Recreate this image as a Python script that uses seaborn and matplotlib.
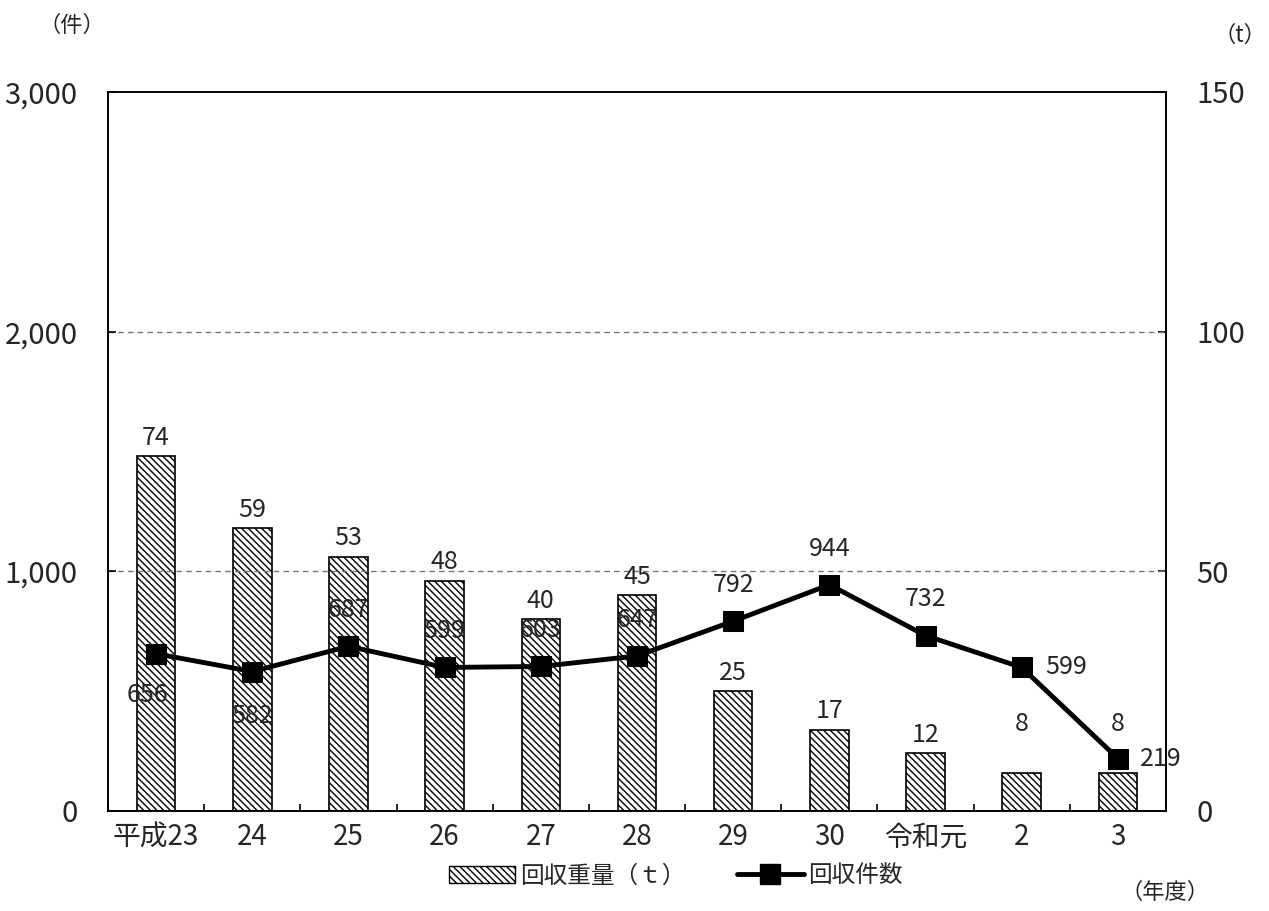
import numpy as np
import pandas as pd
import matplotlib
matplotlib.use("Agg")
import matplotlib.pyplot as plt
import seaborn as sns
from matplotlib.patches import Patch
from matplotlib.lines import Line2D

# data
years = ["平成23", "24", "25", "26", "27", "28", "29", "30", "令和元", "2", "3"]
weight_t = [74, 59, 53, 48, 40, 45, 25, 17, 12, 8, 8]
cases = [656, 582, 687, 599, 603, 647, 792, 944, 732, 599, 219]

sns.set_theme(style="white")
plt.rcParams['font.family'] = ['Noto Sans CJK JP', 'DejaVu Sans']
plt.rcParams['hatch.color'] = '#555555'
plt.rcParams['hatch.linewidth'] = 1.0

df = pd.DataFrame({"year": years, "weight": weight_t, "cases": cases})

fig = plt.figure(figsize=(12.69, 9.11), dpi=100)
ax1 = fig.add_axes([108 / 1269, 1 - 811 / 911, (1166 - 108) / 1269, (811 - 92) / 911])

# bars (right scale, t)
sns.barplot(data=df, x="year", y="weight", ax=ax1, color="white",
            edgecolor="black", linewidth=1.2, width=0.4, hatch="\\\\\\\\\\")
ax1.set_ylim(0, 150)
ax1.set_ylabel("")
ax1.set_xlabel("")

# line (left scale, cases)
ax2 = ax1.twinx()
sns.lineplot(x=np.arange(len(years)), y=cases, ax=ax2, color="black",
             linewidth=3.5, marker="s", markersize=15, markeredgecolor="black")
ax2.set_ylim(0, 3000)
ax2.set_ylabel("")

# bar labels drawn above the line layer
bar_lift = [4, 4, 4, 4, 4, 4, 4, 4, 4, 26, 26]
for i, (v, dy) in enumerate(zip(weight_t, bar_lift)):
    ax2.annotate(str(v), (i, v), xycoords=ax1.transData, xytext=(0, dy),
                 textcoords="offset points", ha="center", va="bottom",
                 fontsize=18, zorder=6)

# right axis for t, left axis for cases
ax1.yaxis.tick_right()
ax1.yaxis.set_label_position("right")
ax1.set_yticks([0, 50, 100, 150])
ax2.yaxis.tick_left()
ax2.yaxis.set_label_position("left")
ax2.set_yticks([0, 1000, 2000, 3000])
ax2.set_yticklabels(["0", "1,000", "2,000", "3,000"])
for y in [1000, 2000]:
    ax2.axhline(y, color="#777777", linestyle=(0, (4, 3)), linewidth=1, zorder=0)

offsets = [(-6, -30), (0, -32), (0, 26), (0, 26), (0, 26), (0, 26),
           (0, 26), (0, 26), (0, 26), (32, 0), (31, 0)]
for i, (v, (dx, dy)) in enumerate(zip(cases, offsets)):
    ax2.annotate(str(v), (i, v), xytext=(dx, dy), textcoords="offset points",
                 ha="center", va="center", fontsize=18)

for ax in (ax1, ax2):
    for s in ax.spines.values():
        s.set_color("black")
        s.set_linewidth(1.2)
    ax.tick_params(axis="y", labelsize=21, direction="in", length=6,
                   width=1.2, color="black", pad=22)
ax1.set_xlim(-0.5, len(years) - 0.5)
ax1.set_xticks(np.arange(len(years) + 1) - 0.5, minor=True)
ax1.tick_params(axis="x", which="major", labelsize=20, length=0, pad=8)
ax1.tick_params(axis="x", which="minor", direction="in", length=5,
                width=1.2, color="black", bottom=True)

fig.text(72 / 1269, 1 - 25 / 911, "（件）", ha="center", va="center", fontsize=16)
fig.text(1266 / 1269, 1 - 35 / 911, "（t）", ha="right", va="center", fontsize=16)
fig.text(1165 / 1269, 1 - 892 / 911, "（年度）", ha="center", va="center", fontsize=16)

# legend
handles = [Patch(facecolor="white", edgecolor="black", hatch="\\\\\\\\\\"),
           Line2D([0], [0], color="black", linewidth=3.5, marker="s", markersize=15)]
fig.legend(handles, ["回収重量（ｔ）", "回収件数"], loc="center",
           bbox_to_anchor=(676 / 1269, 1 - 876 / 911), ncol=2, frameon=False,
           fontsize=17, handlelength=2.8, columnspacing=2.2, handletextpad=0.2)

fig.savefig("out.png", dpi=100)
